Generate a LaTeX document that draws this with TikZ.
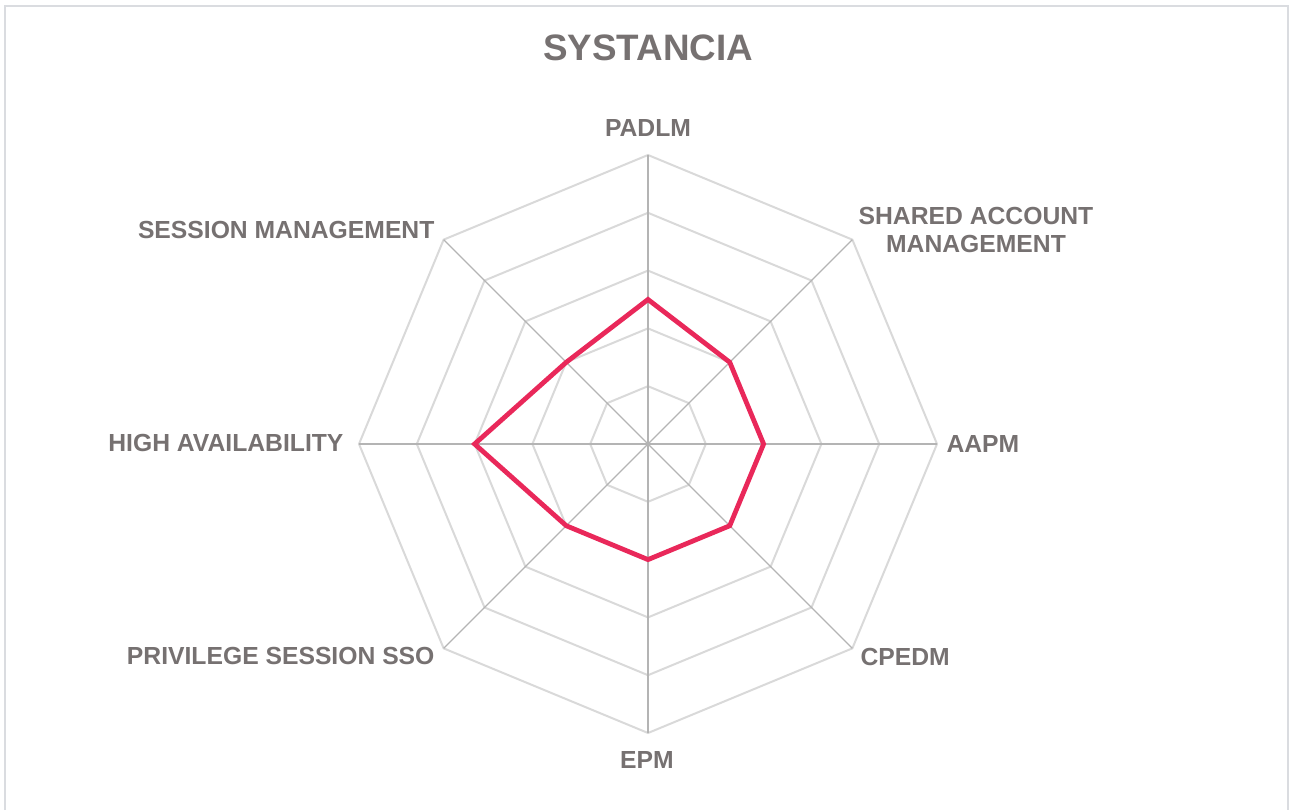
\documentclass[tikz,border=0pt]{standalone}
\usepackage{fontspec}
\setmainfont{Liberation Sans}
\definecolor{labelgray}{RGB}{118,113,113}
\definecolor{ringgray}{RGB}{217,217,217}
\definecolor{axisgray}{RGB}{180,180,180}
\definecolor{seriesred}{RGB}{233,40,90}
\definecolor{framegray}{RGB}{218,220,224}
\tikzset{every picture/.style={line width=0.2mm}}
\tikzset{
  ring/.style={draw=ringgray, line width=1pt},
  axisline/.style={draw=axisgray, line width=0.6pt},
  series/.style={draw=seriesred, line width=2.4pt},
  axislabel/.style={text=labelgray, inner sep=0pt, font=\fontsize{12.35}{14}\selectfont\bfseries},
  charttitle/.style={text=labelgray, inner sep=0pt, font=\fontsize{18.4}{20}\selectfont\bfseries}
}

\begin{document}
\begin{tikzpicture}[x=0.5pt, y=0.5pt]
  \useasboundingbox (0,0) rectangle (1290,810);
  \draw[framegray, line width=1pt] (5,0) -- (5,804) -- (1288,804) -- (1288,0);
  \node[charttitle] (title) at (648,762) {SYSTANCIA};
  \coordinate (c) at (648,366);
  \begin{scope}[shift={(c)}, x=28.9pt, y=28.9pt]
    \foreach \r in {1,...,5}
      \draw[ring] (0:\r) \foreach \a in {45,90,...,315}{ -- (\a:\r)} -- cycle;
    \foreach \a in {0,45,...,315}
      \draw[axisline] (0,0) -- (\a:5);
    \foreach \a/\v/\n in {90/2.5/padlm, 45/2/sam, 0/2/aapm, -45/2/cpedm,
                          -90/2/epm, -135/2/psso, 180/3/ha, 135/2/sm}
      \coordinate (\n) at (\a:\v);
    \draw[series] (padlm) -- (sam) -- (aapm) -- (cpedm) -- (epm) -- (psso) -- (ha) -- (sm) -- cycle;
  \end{scope}
  % axis labels
  \node[axislabel] (lpadlm) at (648,682) {PADLM};
  \node[axislabel, align=center] (lsam) at (976,580) {SHARED ACCOUNT\\MANAGEMENT};
  \node[axislabel, anchor=west] (laapm) at (946,366) {AAPM};
  \node[axislabel, anchor=west] (lcpedm) at (860,153) {CPEDM};
  \node[axislabel] (lepm) at (647,50) {EPM};
  \node[axislabel, anchor=east] (lpsso) at (435,154) {PRIVILEGE SESSION SSO};
  \node[axislabel, anchor=east] (lha) at (344,367) {HIGH AVAILABILITY};
  \node[axislabel, anchor=east] (lsm) at (435,580) {SESSION MANAGEMENT};
\end{tikzpicture}
\end{document}
